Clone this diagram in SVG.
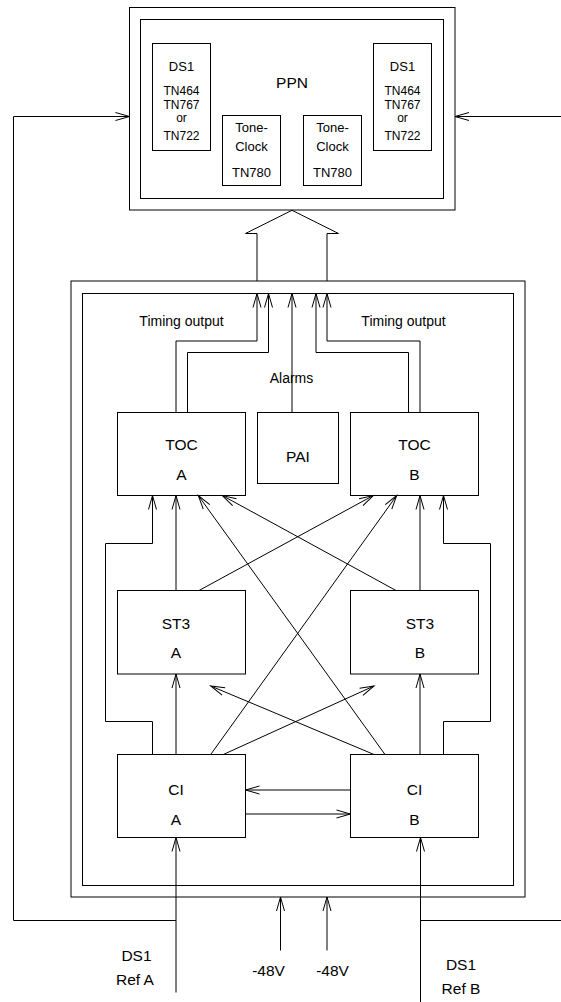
<svg xmlns="http://www.w3.org/2000/svg" width="561" height="1002" viewBox="0 0 561 1002">
<style>
rect{fill:none;stroke:#000;stroke-width:1}
.c path{fill:none;stroke:#000;stroke-width:1}
.a{marker-end:url(#arr)}
text{font-family:"Liberation Sans",Arial,sans-serif;fill:#000;text-anchor:middle}
.lb{font-size:15.5px}
.sm{font-size:14px}
.ds{font-size:13px}
.tn{font-size:12px}
</style>
<defs>
<marker id="arr" markerUnits="userSpaceOnUse" markerWidth="20" markerHeight="12" viewBox="-15 -6 16 12" refX="0" refY="0" orient="auto">
<path d="M-14,-4 L0,0 L-14,4" fill="none" stroke="#000" stroke-width="1"/>
</marker>
</defs>
<rect x="0" y="0" width="561" height="1002" style="fill:#fff;stroke:none"/>

<g id="ppn">
<rect x="129.5" y="7.5" width="325.5" height="202.5"/>
<rect x="140.5" y="19.5" width="303" height="179"/>
<text class="lb" x="292" y="87.5">PPN</text>
</g>
<g id="ds1-left">
<rect x="152.5" y="43.5" width="58" height="107"/>
<text class="ds" x="181.5" y="70.5">DS1</text>
<text class="tn" x="181.5" y="94.5">TN464</text>
<text class="tn" x="181.5" y="108.5">TN767</text>
<text class="tn" x="181.5" y="122">or</text>
<text class="tn" x="181.5" y="139.5">TN722</text>
</g>
<g id="toneclock-1">
<rect x="222.5" y="115.5" width="58" height="70"/>
<text class="ds" x="251.5" y="131.5">Tone-</text>
<text class="ds" x="251.5" y="150.5">Clock</text>
<text class="ds" x="251.5" y="176.5">TN780</text>
</g>
<g id="toneclock-2">
<rect x="303.5" y="115.5" width="58" height="70"/>
<text class="ds" x="332.5" y="131.5">Tone-</text>
<text class="ds" x="332.5" y="150.5">Clock</text>
<text class="ds" x="332.5" y="176.5">TN780</text>
</g>
<g id="ds1-right">
<rect x="373.5" y="43.5" width="58" height="107"/>
<text class="ds" x="402.5" y="70.5">DS1</text>
<text class="tn" x="402.5" y="94.5">TN464</text>
<text class="tn" x="402.5" y="108.5">TN767</text>
<text class="tn" x="402.5" y="122">or</text>
<text class="tn" x="402.5" y="139.5">TN722</text>
</g>

<g id="cabinet">
<rect x="71" y="281" width="454" height="616"/>
<rect x="82.5" y="293.5" width="431" height="592"/>
</g>
<g id="toc-a">
<rect x="117.5" y="412.5" width="128" height="83"/>
<text class="lb" x="181.5" y="449.5">TOC</text>
<text class="lb" x="181.5" y="480">A</text>
</g>
<g id="pai">
<rect x="257.5" y="412.5" width="81" height="71"/>
<text class="lb" x="298" y="461.5">PAI</text>
</g>
<g id="toc-b">
<rect x="350.5" y="412.5" width="128" height="83"/>
<text class="lb" x="414.5" y="449.5">TOC</text>
<text class="lb" x="414.5" y="480">B</text>
</g>
<g id="st3-a">
<rect x="117.5" y="590.5" width="128" height="83.5"/>
<text class="lb" x="176" y="628.5">ST3</text>
<text class="lb" x="176" y="657.5">A</text>
</g>
<g id="st3-b">
<rect x="350.5" y="590.5" width="128" height="83.5"/>
<text class="lb" x="420" y="628.5">ST3</text>
<text class="lb" x="420" y="657.5">B</text>
</g>
<g id="ci-a">
<rect x="117.5" y="754.5" width="128" height="83"/>
<text class="lb" x="176" y="794.5">CI</text>
<text class="lb" x="176" y="824.5">A</text>
</g>
<g id="ci-b">
<rect x="350.5" y="754.5" width="128" height="83"/>
<text class="lb" x="414.5" y="794.5">CI</text>
<text class="lb" x="414.5" y="824.5">B</text>
</g>

<g id="labels">
<text class="sm" x="181.5" y="325.5">Timing output</text>
<text class="sm" x="403.5" y="325.5">Timing output</text>
<text class="sm" x="291.5" y="382.5">Alarms</text>
<text class="lb" x="136.5" y="961">DS1</text>
<text class="lb" x="135" y="985">Ref A</text>
<text class="lb" x="268.5" y="975.5">-48V</text>
<text class="lb" x="332.5" y="975.5">-48V</text>
<text class="lb" x="461" y="970">DS1</text>
<text class="lb" x="461" y="994">Ref B</text>
</g>

<g id="connectors" class="c">
<path class="a" d="M176,920.5 H13.5 V116.5 H129.5"/>
<path class="a" d="M562,116.5 H455"/>
<path d="M420.5,920.5 H562"/>
<path class="a" d="M176,992.5 V837.5"/>
<path class="a" d="M420.5,1002 V837.5"/>
<path class="a" d="M280.5,950.5 V897"/>
<path class="a" d="M327,950.5 V897"/>
<path d="M257,281 V233.5 H245.5 L292,210.3 L338.5,233.5 H327 V281"/>
<path class="a" d="M176,412.5 V341 H257 V293.5"/>
<path class="a" d="M187.5,412.5 V352.5 H268.5 V293.5"/>
<path class="a" d="M292,412.5 V293.5"/>
<path class="a" d="M408.5,412.5 V352.5 H316 V293.5"/>
<path class="a" d="M420,412.5 V341 H327 V293.5"/>
<path class="a" d="M152.5,754.5 V721.5 H105.5 V543.5 H152.5 V495.5"/>
<path class="a" d="M176,590.5 V495.5"/>
<path class="a" d="M385,754.5 L198.3,495.5"/>
<path class="a" d="M396,590.5 L222.3,495.5"/>
<path class="a" d="M199,590.5 L373.3,495.5"/>
<path class="a" d="M210.7,754.5 L396.7,495.5"/>
<path class="a" d="M420,590.5 V495.5"/>
<path class="a" d="M443.5,754.5 V721.5 H490.5 V543.5 H443.5 V495.5"/>
<path class="a" d="M176,754.5 V674"/>
<path class="a" d="M420,754.5 V674"/>
<path class="a" d="M223.3,754.5 L374,686"/>
<path class="a" d="M374,754.5 L210.7,686"/>
<path class="a" d="M350.5,790 H245.5"/>
<path class="a" d="M245.5,814 H350.5"/>
</g>
</svg>
